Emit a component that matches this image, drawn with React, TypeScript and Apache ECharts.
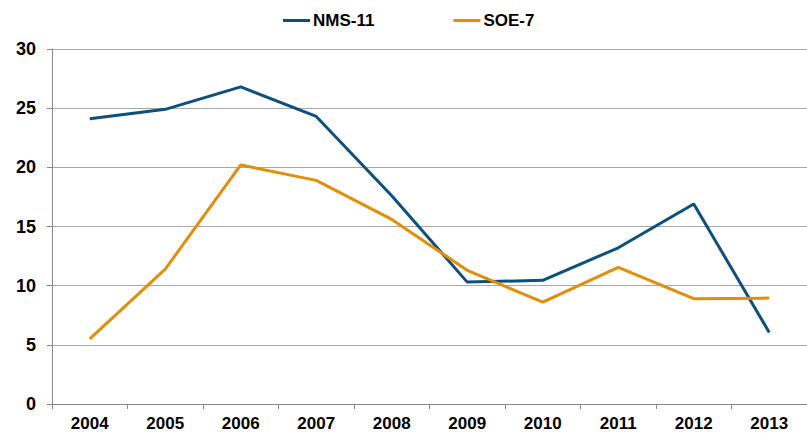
import React, { useEffect, useRef } from "react";
import * as echarts from "echarts";

const categories = ["2004", "2005", "2006", "2007", "2008", "2009", "2010", "2011", "2012", "2013"];
const nms11 = [24.1, 24.9, 26.8, 24.3, 17.6, 10.3, 10.45, 13.2, 16.9, 6.05];
const soe7 = [5.5, 11.4, 20.2, 18.9, 15.6, 11.3, 8.6, 11.55, 8.9, 8.95];
const seriesNames = ["NMS-11", "SOE-7"];

export default function App() {
  const ref = useRef<HTMLDivElement>(null);
  useEffect(() => {
    if (!ref.current) return;
    const chart = echarts.init(ref.current, undefined, { renderer: "svg" });
    const font = "'Liberation Sans', Arial, sans-serif";
    chart.setOption({
      animation: false,
      backgroundColor: "#ffffff",
      legend: {
        top: 7,
        left: 278,
        itemWidth: 27,
        itemHeight: 3,
        itemGap: 79,
        icon: "rect",
        textStyle: { fontFamily: font, fontWeight: "bold", fontSize: 17, color: "#000", padding: [0, 0, 0, -2] },
        data: seriesNames,
      },
      grid: { left: 52, right: -7, top: 49, bottom: 33, containLabel: false },
      xAxis: {
        type: "category",
        data: categories,
        boundaryGap: true,
        axisLine: { lineStyle: { color: "#888888", width: 1 } },
        axisTick: { show: true, length: 5, lineStyle: { color: "#888888" } },
        axisLabel: { fontFamily: font, fontWeight: "bold", fontSize: 17, color: "#000", margin: 11 },
      },
      yAxis: {
        type: "value",
        min: 0,
        max: 30,
        interval: 5,
        axisLine: { show: true, lineStyle: { color: "#888888", width: 1 } },
        axisTick: { show: true, length: 5, lineStyle: { color: "#888888" } },
        splitLine: { lineStyle: { color: "#a8a8a8", width: 1 } },
        axisLabel: { fontFamily: font, fontWeight: "bold", fontSize: 18, color: "#000", margin: 16 },
      },
      series: [
        {
          name: seriesNames[0],
          type: "line",
          data: nms11,
          symbol: "none",
          color: "#0d4f7d",
          lineStyle: { width: 3, color: "#0d4f7d" },
        },
        {
          name: seriesNames[1],
          type: "line",
          data: soe7,
          symbol: "none",
          color: "#e08e0b",
          lineStyle: { width: 3, color: "#e08e0b" },
        },
      ],
    });
    return () => chart.dispose();
  }, []);
  return (
    <div
      ref={ref}
      style={{ position: "fixed", left: 0, top: 0, width: 807, height: 437, background: "#fff" }}
    />
  );
}
